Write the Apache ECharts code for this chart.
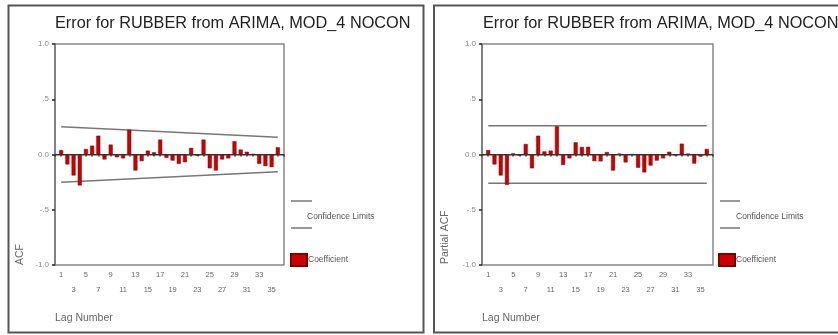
<!DOCTYPE html>
<html>
<head>
<meta charset="utf-8">
<script src="https://cdn.jsdelivr.net/npm/echarts@6/dist/echarts.min.js"></script>
<style>
html,body{margin:0;padding:0;background:#fff;}
#chart{width:838px;height:335px;}
</style>
</head>
<body>
<div id="chart"></div>
<script>
// ---- data ----
var titleText = 'Error for RUBBER from ARIMA, MOD_4 NOCON';
var lags = [1,2,3,4,5,6,7,8,9,10,11,12,13,14,15,16,17,18,19,20,21,22,23,24,25,26,27,28,29,30,31,32,33,34,35,36];
var acf = [0.04,-0.09,-0.19,-0.28,0.05,0.08,0.17,-0.045,0.09,-0.025,-0.035,0.225,-0.145,-0.06,0.035,0.02,0.135,-0.03,
           -0.055,-0.085,-0.07,0.06,-0.01,0.135,-0.125,-0.145,-0.045,-0.035,0.12,0.045,0.025,0.005,-0.085,-0.105,-0.115,0.065];
var pacf = [0.04,-0.09,-0.19,-0.275,0.01,-0.008,0.095,-0.125,0.17,0.028,0.035,0.255,-0.095,-0.035,0.11,0.068,0.07,-0.06,
            -0.062,0.022,-0.145,0.008,-0.072,0.002,-0.12,-0.162,-0.1,-0.055,-0.035,0.025,-0.008,0.098,0.008,-0.082,-0.018,0.05];
// confidence limits at first and last lag
var acfConfUpper = [0.252, 0.157];
var acfConfLower = [-0.252, -0.157];
var pacfConfUpper = [0.26, 0.26];
var pacfConfLower = [-0.26, -0.26];
var yTickLabels = {'1': '1.0', '0.5': '.5', '0': '0.0', '-0.5': '-.5', '-1': '-1.0'};
var yNames = ['ACF', 'Partial ACF'];
var xName = 'Lag Number';
var legendConf = 'Confidence Limits';
var legendCoef = 'Coefficient';

// ---- chart ----
var FONT = '"Liberation Sans", Arial, sans-serif';
var chart = echarts.init(document.getElementById('chart'), null, {renderer: 'canvas'});

function pairs(vals) {
  return [[lags[0], vals[0]], [lags[lags.length - 1], vals[1]]];
}
function barData(vals) {
  return lags.map(function (l, i) { return [l, vals[i]]; });
}
function xAxisDef(idx) {
  return {
    type: 'value', gridIndex: idx, min: 0, max: 37, interval: 1,
    axisLine: {show: true, lineStyle: {color: '#777', width: 1.5}},
    axisTick: {show: true, length: 2, lineStyle: {color: '#333', width: 1.5}},
    splitLine: {show: false},
    axisLabel: {
      margin: 2, fontSize: 7.5, color: '#666', fontFamily: FONT, lineHeight: 15,
      formatter: function (v) {
        if (v < 1 || v > 36) return '';
        if ((v - 1) % 4 === 0) return String(v);
        if ((v - 3) % 4 === 0) return '\n' + v;
        return '';
      }
    }
  };
}
function yAxisDef(idx) {
  return {
    type: 'value', gridIndex: idx, min: -1, max: 1, interval: 0.5,
    axisLine: {show: true, lineStyle: {color: '#777', width: 1.5}},
    axisTick: {show: true, length: 3, lineStyle: {color: '#222', width: 1.5}},
    splitLine: {show: false},
    axisLabel: {
      margin: 6, fontSize: 8, color: '#888', fontFamily: FONT,
      formatter: function (v) { return yTickLabels[String(v)] || ''; }
    }
  };
}
function barSeries(idx, vals) {
  return {
    name: legendCoef, type: 'bar', xAxisIndex: idx, yAxisIndex: idx,
    data: barData(vals), barWidth: 4,
    itemStyle: {color: '#cc0000', borderColor: '#7a0000', borderWidth: 0.5},
    markLine: {
      silent: true, symbol: 'none', label: {show: false},
      lineStyle: {color: '#333', width: 1, type: 'solid'},
      data: [{yAxis: 0}]
    },
    z: 3
  };
}
function confSeries(idx, vals) {
  return {
    name: legendConf, type: 'line', xAxisIndex: idx, yAxisIndex: idx,
    data: pairs(vals), showSymbol: false, symbol: 'none',
    lineStyle: {color: '#777', width: 1.5}, z: 2
  };
}
function legendText(x, y, txt) {
  return {type: 'text', left: x, top: y, style: {text: txt, fontSize: 8.5, fill: '#555', fontFamily: FONT}};
}
function legendDef(x) {
  return {data: [{name: legendCoef, icon: 'rect'}], left: x, top: 253, padding: 0,
          itemWidth: 16, itemHeight: 12, itemGap: 0, selectedMode: false,
          textStyle: {fontSize: 8.5, color: '#555', fontFamily: FONT, padding: [0, 0, 0, -4]}};
}

var option = {
  backgroundColor: '#fff',
  animation: false,
  title: [
    {text: titleText, left: 55, top: 16, padding: 0, textStyle: {fontSize: 16.3, fontWeight: 'normal', color: '#222', fontFamily: FONT}},
    {text: titleText, left: 483, top: 16, padding: 0, textStyle: {fontSize: 16.3, fontWeight: 'normal', color: '#222', fontFamily: FONT}}
  ],
  grid: [
    {left: 55, right: 554, top: 44, bottom: 70, show: true, borderColor: '#888', borderWidth: 1.5, containLabel: false},
    {left: 482, right: 125, top: 44, bottom: 70, show: true, borderColor: '#888', borderWidth: 1.5, containLabel: false}
  ],
  xAxis: [xAxisDef(0), xAxisDef(1)],
  yAxis: [yAxisDef(0), yAxisDef(1)],
  legend: [legendDef(290), legendDef(718)],
  graphic: [
    // panel frames
    {type: 'rect', shape: {x: 8.5, y: 5.5, width: 415, height: 327}, style: {fill: 'none', stroke: '#555', lineWidth: 2}, silent: true},
    {type: 'rect', shape: {x: 434, y: 5.5, width: 420, height: 327}, style: {fill: 'none', stroke: '#555', lineWidth: 2}, silent: true},
    // confidence legend
    {type: 'line', shape: {x1: 291, y1: 201, x2: 312, y2: 201}, style: {stroke: '#777', lineWidth: 1.5}, silent: true},
    {type: 'line', shape: {x1: 291, y1: 228, x2: 312, y2: 228}, style: {stroke: '#777', lineWidth: 1.5}, silent: true},
    legendText(307, 212, legendConf),
    {type: 'line', shape: {x1: 720, y1: 201, x2: 740, y2: 201}, style: {stroke: '#777', lineWidth: 1.5}, silent: true},
    {type: 'line', shape: {x1: 720, y1: 228, x2: 740, y2: 228}, style: {stroke: '#777', lineWidth: 1.5}, silent: true},
    legendText(736, 212, legendConf),
    // axis titles
    {type: 'text', x: 20, y: 265, rotation: Math.PI / 2, style: {text: yNames[0], fontSize: 10.5, fill: '#666', fontFamily: FONT, align: 'left', verticalAlign: 'middle'}},
    {type: 'text', x: 445, y: 264, rotation: Math.PI / 2, style: {text: yNames[1], fontSize: 10.5, fill: '#666', fontFamily: FONT, align: 'left', verticalAlign: 'middle'}},
    {type: 'text', left: 55, top: 313, style: {text: xName, fontSize: 10.5, fill: '#666', fontFamily: FONT}},
    {type: 'text', left: 482, top: 313, style: {text: xName, fontSize: 10.5, fill: '#666', fontFamily: FONT}}
  ],
  series: [
    barSeries(0, acf), confSeries(0, acfConfUpper), confSeries(0, acfConfLower),
    barSeries(1, pacf), confSeries(1, pacfConfUpper), confSeries(1, pacfConfLower)
  ]
};
chart.setOption(option);
</script>
</body>
</html>
